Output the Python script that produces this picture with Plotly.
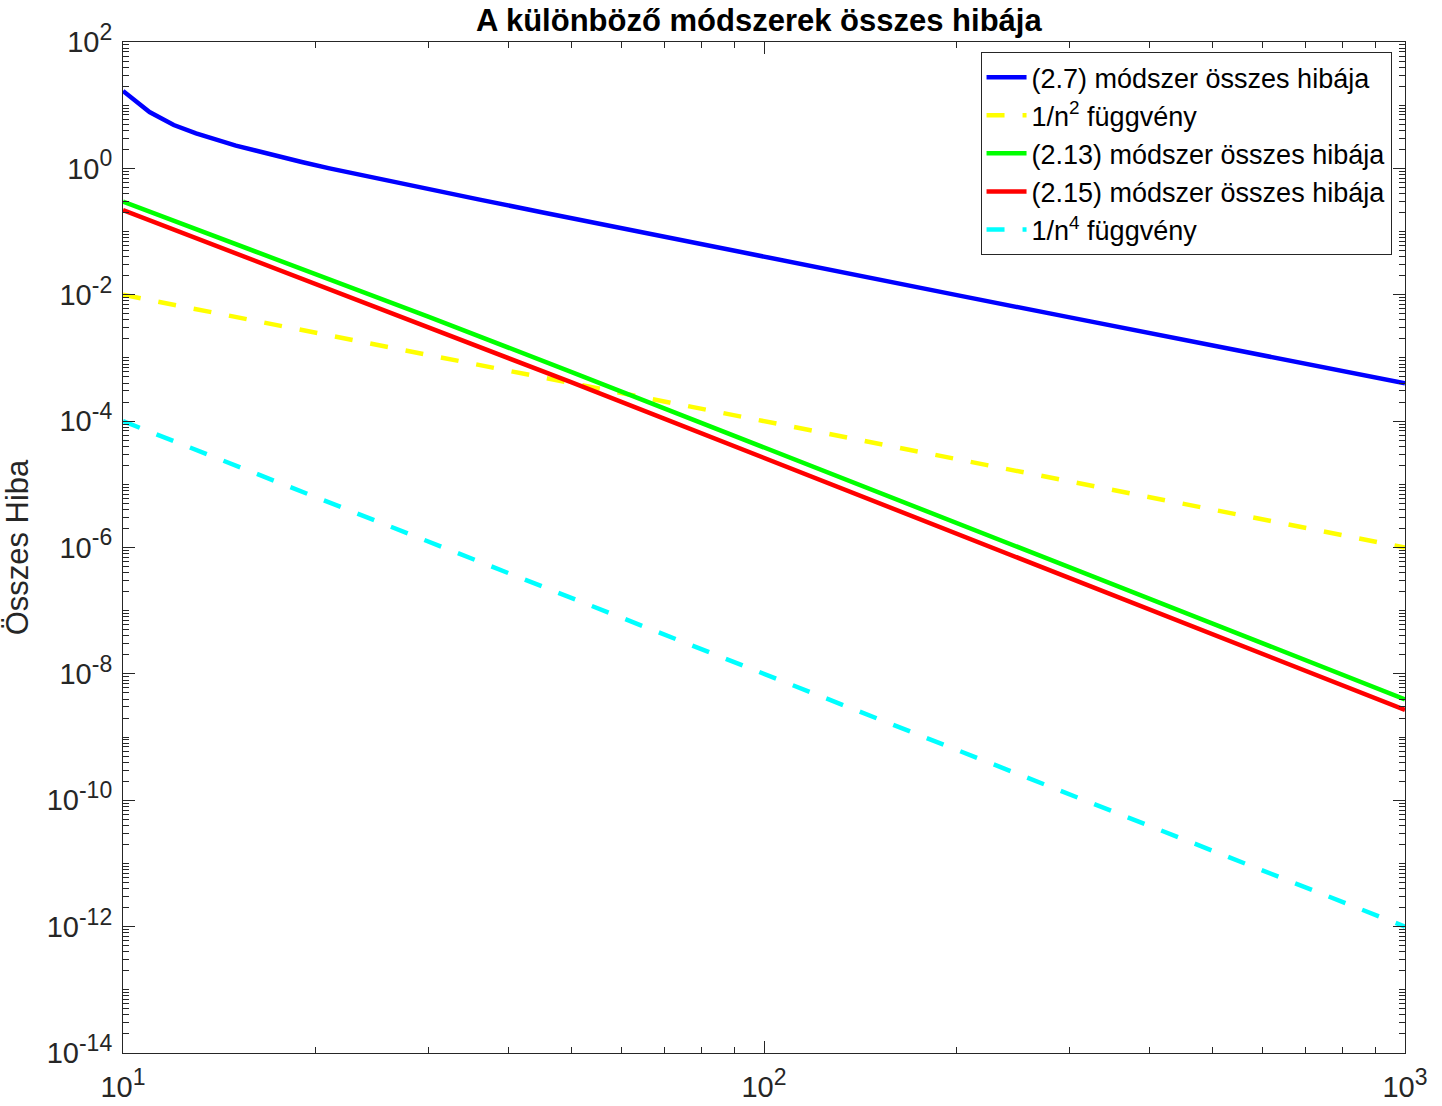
import plotly.graph_objects as go

# ---- data ----
n_blue = [10, 11, 12, 13, 15, 17, 19, 21, 25, 30, 36, 45, 62, 80, 100, 150, 200, 300, 500, 700, 1000]
err_27 = [16.8, 7.8, 4.86, 3.59, 2.29, 1.654, 1.26, 0.998, 0.685, 0.467, 0.320, 0.2025, 0.1051,
          0.0622, 0.0392, 0.01748, 0.00985, 0.00438, 0.00158, 0.000805, 0.000397]

n_ref = [10, 20, 50, 100, 200, 500, 1000]
inv_n2 = [1e-2, 2.5e-3, 4e-4, 1e-4, 2.5e-5, 4e-6, 1e-6]
inv_n4 = [1e-4, 6.25e-6, 1.6e-7, 1e-8, 6.25e-10, 1.6e-11, 1e-12]

n_gr = [10, 21, 30, 50, 70, 100, 150, 200, 300, 500, 700, 1000]
err_213 = [0.297, 0.0176, 4.48e-3, 6.02e-4, 1.59e-4, 3.86e-5, 7.69e-6, 2.44e-6, 4.85e-7,
           6.30e-8, 1.643e-8, 3.96e-9]
err_215 = [0.219, 0.0122, 3.11e-3, 4.13e-4, 1.087e-4, 2.63e-5, 5.23e-6, 1.66e-6, 3.29e-7,
           4.27e-8, 1.113e-8, 2.68e-9]

x_major_exp = [1, 2, 3]
y_major_exp = [2, 0, -2, -4, -6, -8, -10, -12, -14]

FONT = "Liberation Sans, Arial, sans-serif"
AX = "#262626"
SUP = 'style="font-size:23px"'

x_major = [10.0 ** e for e in x_major_exp]
x_text = [f"10<sup><span {SUP}>{e}</span></sup>" for e in x_major_exp]
x_minor = [k * 10.0 ** e for e in range(1, 3) for k in range(2, 10)]

y_major = [10.0 ** e for e in y_major_exp]
y_text = [f"10<sup><span {SUP}>{e}</span></sup>" for e in y_major_exp]
y_minor = [k * 10.0 ** e for e in range(-14, 2) for k in range(1, 10)
           if not (k == 1 and e % 2 == 0)]

fig = go.Figure()
LW = 4.5
fig.add_trace(go.Scatter(x=n_blue, y=err_27, mode="lines", name="(2.7) módszer összes hibája",
                         line=dict(color="#0000FF", width=LW)))
fig.add_trace(go.Scatter(x=n_ref, y=inv_n2, mode="lines", name="1/n<sup>2</sup> függvény",
                         line=dict(color="#FFFF00", width=LW, dash="18px,18px")))
fig.add_trace(go.Scatter(x=n_gr, y=err_213, mode="lines", name="(2.13) módszer összes hibája",
                         line=dict(color="#00FF00", width=LW)))
fig.add_trace(go.Scatter(x=n_gr, y=err_215, mode="lines", name="(2.15) módszer összes hibája",
                         line=dict(color="#FF0000", width=LW)))
fig.add_trace(go.Scatter(x=n_ref, y=inv_n4, mode="lines", name="1/n<sup>4</sup> függvény",
                         line=dict(color="#00FFFF", width=LW, dash="18px,18px")))

fig.update_layout(
    width=1442, height=1106,
    margin=dict(l=123, r=37, t=42, b=53),
    paper_bgcolor="white", plot_bgcolor="white",
    font=dict(family=FONT, size=28, color=AX),
    title=dict(text="<b>A különböző módszerek összes hibája</b>",
               font=dict(family=FONT, size=31, color="black"),
               x=0.496, xanchor="center", y=1 - 20 / 1106, yanchor="middle",
               xref="paper", yref="container"),
    showlegend=True,
    legend=dict(x=0.9895, xanchor="right", y=0.990, yanchor="top",
                bgcolor="white", bordercolor=AX, borderwidth=1,
                font=dict(family=FONT, size=27, color="black"),
                tracegroupgap=0, itemwidth=40),
)
fig.update_xaxes(type="log", range=[1, 3], showgrid=False, zeroline=False,
                 showline=True, linecolor=AX, linewidth=1, mirror="ticks",
                 ticks="inside", ticklen=12, tickcolor=AX, tickwidth=1,
                 tickmode="array", tickvals=x_major, ticktext=x_text,
                 tickfont=dict(size=29, color=AX), ticklabelstandoff=8,
                 automargin=False,
                 minor=dict(tickmode="array", tickvals=x_minor, ticks="inside",
                            ticklen=6, tickcolor=AX, tickwidth=1))
fig.update_yaxes(type="log", range=[-14, 2], showgrid=False, zeroline=False,
                 showline=True, linecolor=AX, linewidth=1, mirror="ticks",
                 ticks="inside", ticklen=12, tickcolor=AX, tickwidth=1,
                 tickmode="array", tickvals=y_major, ticktext=y_text,
                 tickfont=dict(size=29, color=AX), ticklabelstandoff=4,
                 automargin=False,
                 title=dict(text="Összes Hiba", font=dict(size=31, color=AX), standoff=8),
                 minor=dict(tickmode="array", tickvals=y_minor, ticks="inside",
                            ticklen=6, tickcolor=AX, tickwidth=1))

fig.write_html("out.html")
